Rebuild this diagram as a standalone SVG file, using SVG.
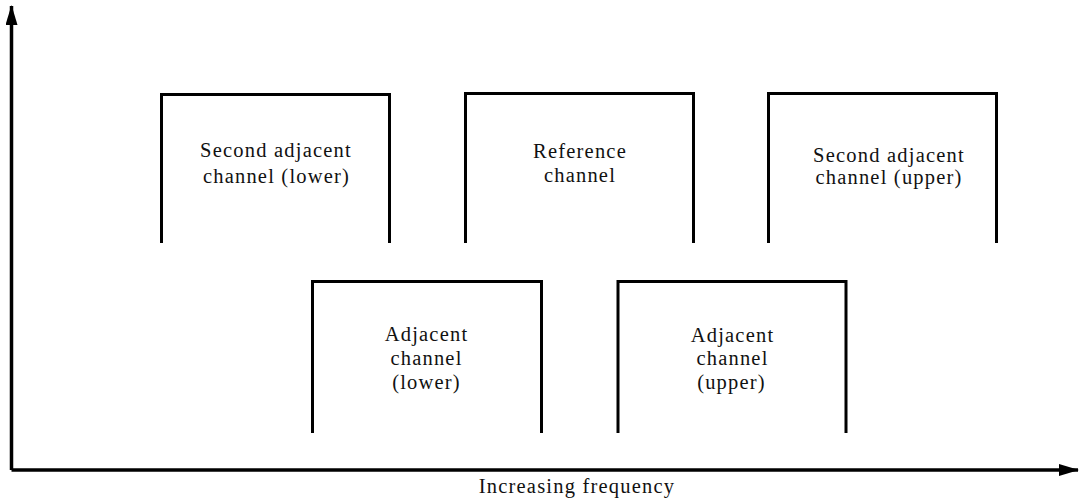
<svg xmlns="http://www.w3.org/2000/svg" width="1080" height="501" viewBox="0 0 1080 501">
<style>
.box{fill:none;stroke:#000;stroke-width:3;stroke-linejoin:miter}
.ax{fill:none;stroke:#000;stroke-width:3.5}
.lbl{font-family:"Liberation Serif","Times New Roman",serif;font-size:20.5px;letter-spacing:1.2px;fill:#111;text-anchor:middle}
</style>
<defs>
<marker id="ah" viewBox="0 0 20 12" refX="19" refY="6" markerWidth="20" markerHeight="12" markerUnits="userSpaceOnUse" orient="auto">
<path d="M0,0 L20,6 L0,12 Z" fill="#000"/>
</marker>
</defs>
<rect width="1080" height="501" fill="#fff"/>
<g id="connectors">
<path class="ax" d="M11.5,470 L11.5,6" marker-end="url(#ah)"/>
<path class="ax" d="M11.5,470 L1078,470" marker-end="url(#ah)"/>
</g>
<g id="second-adjacent-lower">
<path class="box" d="M161.5,243 L161.5,94.5 L389.5,94.5 L389.5,243"/>
<text class="lbl" x="276" y="157">Second adjacent</text>
<text class="lbl" x="276.5" y="183">channel (lower)</text>
</g>
<g id="reference">
<path class="box" d="M465.5,243 L465.5,93.5 L693.5,93.5 L693.5,243"/>
<text class="lbl" x="580" y="158">Reference</text>
<text class="lbl" x="580" y="182">channel</text>
</g>
<g id="second-adjacent-upper">
<path class="box" d="M768.5,243 L768.5,93.5 L996.5,93.5 L996.5,243"/>
<text class="lbl" x="889" y="162">Second adjacent</text>
<text class="lbl" x="889" y="184">channel (upper)</text>
</g>
<g id="adjacent-lower">
<path class="box" d="M312.5,433 L312.5,281.5 L541.5,281.5 L541.5,433"/>
<text class="lbl" x="426.5" y="341">Adjacent</text>
<text class="lbl" x="426.5" y="365">channel</text>
<text class="lbl" x="426.5" y="389">(lower)</text>
</g>
<g id="adjacent-upper">
<path class="box" d="M618,433 L618,281.5 L846,281.5 L846,433"/>
<text class="lbl" x="732.5" y="342">Adjacent</text>
<text class="lbl" x="732.5" y="365">channel</text>
<text class="lbl" x="731.5" y="389">(upper)</text>
</g>
<g id="x-axis-label">
<text class="lbl" x="577" y="493">Increasing frequency</text>
</g>
</svg>
